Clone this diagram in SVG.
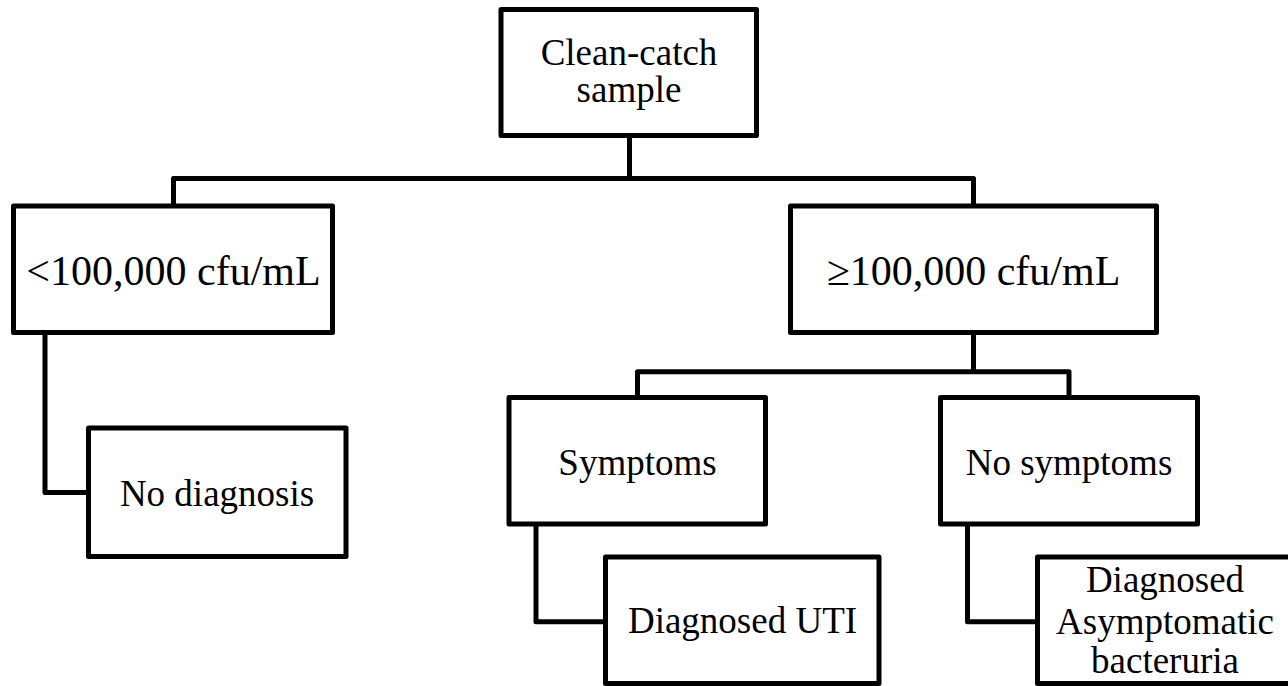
<svg xmlns="http://www.w3.org/2000/svg" width="1288" height="686" viewBox="0 0 1288 686">
<style>
.box{fill:#fff;stroke:#000;stroke-width:5;stroke-linejoin:round}
.con{fill:none;stroke:#000;stroke-width:5;stroke-linejoin:round}
text{font-family:"Liberation Serif","Times New Roman",serif;font-size:37px;fill:#000;text-anchor:middle}
.big{font-size:42px}
</style>
<rect width="1288" height="686" fill="#fff"/>
<g id="connectors">
<path class="con" d="M629.5,135.5 V178.5 M173.5,206 V178.5 H973.5 V206"/>
<path class="con" d="M973.5,332.5 V371.7 M637.5,397.5 V371.7 H1069 V397.5"/>
<path class="con" d="M45,332.5 V492.5 H88.5"/>
<path class="con" d="M536,524 V621.7 H605.5"/>
<path class="con" d="M967.5,524 V621.7 H1037.5"/>
</g>
<g id="node-sample">
<rect class="box" x="501" y="9.5" width="255.5" height="126"/>
<text x="629" y="65">Clean-catch</text>
<text x="629" y="102">sample</text>
</g>
<g id="node-low">
<rect class="box" x="13.5" y="206" width="319" height="126.5"/>
<text class="big" x="173.5" y="285">&lt;100,000 cfu/mL</text>
</g>
<g id="node-high">
<rect class="box" x="790.5" y="206" width="366" height="126.5"/>
<text class="big" x="973.5" y="285">≥100,000 cfu/mL</text>
</g>
<g id="node-nodiag">
<rect class="box" x="88.5" y="428" width="257.5" height="128.5"/>
<text x="217" y="506">No diagnosis</text>
</g>
<g id="node-symptoms">
<rect class="box" x="509" y="397.5" width="256.5" height="126.5"/>
<text x="637.5" y="475">Symptoms</text>
</g>
<g id="node-nosymptoms">
<rect class="box" x="940.5" y="397.5" width="257" height="126.5"/>
<text x="1069" y="475">No symptoms</text>
</g>
<g id="node-uti">
<rect class="box" x="605.5" y="557" width="273.5" height="126.5"/>
<text x="742.5" y="633">Diagnosed UTI</text>
</g>
<g id="node-asb">
<rect class="box" x="1037.5" y="557" width="255" height="126.5"/>
<text x="1165" y="592">Diagnosed</text>
<text x="1165" y="634">Asymptomatic</text>
<text x="1165" y="673">bacteruria</text>
</g>
</svg>
